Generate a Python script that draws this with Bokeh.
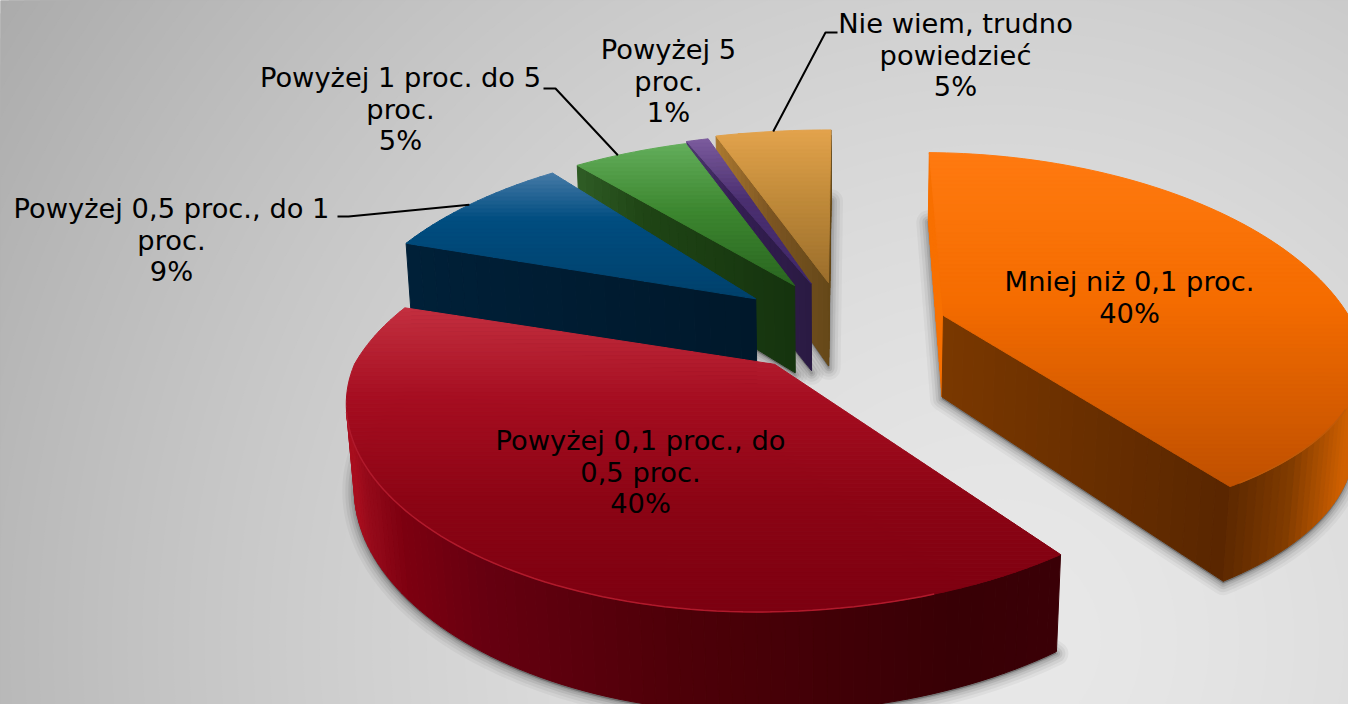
import math
from bokeh.plotting import figure
from bokeh.models import Range1d
from bokeh.embed import file_html
from bokeh.resources import INLINE
from bokeh.core.properties import value

# --- data ---
categories = ["Mniej niż 0,1 proc.", "Powyżej 0,1 proc., do 0,5 proc.", "Powyżej 0,5 proc., do 1 proc.",
              "Powyżej 1 proc. do 5 proc.", "Powyżej 5 proc.", "Nie wiem, trudno powiedzieć"]
values = [40, 40, 9, 5, 1, 5]
label_lines = [["Mniej niż 0,1 proc."], ["Powyżej 0,1 proc., do", "0,5 proc."], ["Powyżej 0,5 proc., do 1", "proc."],
               ["Powyżej 1 proc. do 5", "proc."], ["Powyżej 5", "proc."], ["Nie wiem, trudno", "powiedzieć"]]

# --- layout and style ---
W, H_PX = 1348, 704
CX, CY, F, G, K, M = 841.0, 321.0, 400.0, 177.0, 0.21, 0.015
EXPLODE = 0.27
# per-slice fit of the perspective: centre shift, x radius, back/front y radius, height, angle nudges, left pinch
SHIFT = [(0, -0.05), (0, -0.012), (0.003, -0.02), (0.015, -0.02), (0.012, -0.03), (0.008, -0.036)]
RX = [1.02, 1.0, 1.03, 1.08, 1.12, 1.19]
RY = [1.16, 1.0, 1.15, 1.13, 1.15, 1.17]
RYF = [0.97, 0.99, 1.0, 1.0, 1.0, 1.0]
HZ = [83.0, 81.0, 90.0, 92.0, 92.0, 88.0]
NUDGE = [(1.0, 3.0), (0, 0), (0, 0), (0, 1.5), (0, 0), (0, 0)]
PINCH = [0, 0.06, 0, 0, 0, 0]
TOP = [
    [(153, "#ff7a10"), (300, "#f56c00"), (486, "#bf5000")],
    [(305, "#c43040"), (400, "#a50d20"), (500, "#8c0414"), (610, "#7c0010")],
    [(175, "#4378a5"), (220, "#004d80"), (300, "#00416b")],
    [(145, "#62ad5a"), (210, "#3d8730"), (285, "#2a6620")],
    [(140, "#7a5a9c"), (200, "#4a2f70"), (285, "#40286a")],
    [(130, "#e3a34c"), (200, "#c08a3a"), (285, "#9a6d2b")],
]
START_CUT = [
    [(925, "#f87000"), (945, "#f87000")],
    [(770, "#300004"), (1060, "#300004")],
    [(405, "#002038"), (757, "#00182b")],
    [(578, "#2f5c25"), (640, "#1f4515"), (795, "#15330e")],
    [(688, "#4d3a6e"), (730, "#351f55"), (810, "#2a1a42")],
    [(717, "#a9772f"), (770, "#7c5522"), (830, "#654818")],
]
END_CUT = [
    [(943, "#7a3800"), (1228, "#592600")],
    [(405, "#7c0010"), (770, "#7c0010")],
    [(405, "#00182b"), (757, "#00182b")],
    [(578, "#15330e"), (795, "#15330e")],
    [(688, "#2a1a42"), (810, "#2a1a42")],
    [(717, "#654818"), (830, "#654818")],
]
RIM = [
    [(1222, "#592600"), (1290, "#803b00"), (1348, "#d06000")],
    [(351, "#a80e1e"), (364, "#960a1a"), (400, "#7d0010"), (481, "#660010"), (670, "#4e0008"), (953, "#380005"), (1060, "#3a0006")],
    [(405, "#00182b"), (548, "#00182b")],
    [(578, "#2f5c25"), (685, "#2f5c25")],
    [(688, "#4d3a6e"), (705, "#4d3a6e")],
    [(717, "#a9772f"), (832, "#a9772f")],
]
LABEL_AT = [(1129, 281), (640, 440), (171, 208), (400, 77), (668, 49), (955, 23)]
LEADER = {2: ([(337, 216), (348, 216)], 0.5), 3: ([(543, 88), (555, 88)], 0.42), 5: ([(837, 32), (825, 32)], 0.5)}
LINE_H = 31.5
FONT = "DejaVu Sans"
FONT_SIZE = "27.3px"


def project(X, Y, Z, hz):
    w = 1 + K * Y - M * Z
    return CX + F * X / w, CY + (-G * Y - hz * Z) / w


def hex2rgb(h):
    return tuple(int(h[i:i + 2], 16) for i in (1, 3, 5))


def ramp(stops, t):
    if t <= stops[0][0]:
        return stops[0][1]
    for (a, ca), (b, cb) in zip(stops, stops[1:]):
        if t <= b:
            u = (t - a) / (b - a)
            ra, rb = hex2rgb(ca), hex2rgb(cb)
            return "#%02x%02x%02x" % tuple(round(p + (q - p) * u) for p, q in zip(ra, rb))
    return stops[-1][1]


def clip(poly, y, keep_below):
    out = []
    n = len(poly)
    for i in range(n):
        a, b = poly[i], poly[(i + 1) % n]
        ina = a[1] >= y if keep_below else a[1] <= y
        inb = b[1] >= y if keep_below else b[1] <= y
        if ina:
            out.append(a)
        if ina != inb:
            u = (y - a[1]) / (b[1] - a[1])
            out.append((a[0] + (b[0] - a[0]) * u, y))
    return out


def area(q):
    return sum(q[i][0] * q[(i + 1) % len(q)][1] - q[(i + 1) % len(q)][0] * q[i][1] for i in range(len(q)))


p = figure(width=W, height=H_PX, x_range=Range1d(0, W), y_range=Range1d(H_PX, 0),
           toolbar_location=None, output_backend="svg", min_border=0, outline_line_color=None,
           background_fill_color="#aaaaaa", border_fill_color="#ffffff")
p.axis.visible = False
p.grid.visible = False

# backdrop: radial grey gradient
rad, col = [], []
for lv in range(171, 233):
    d = 1187 * ((232.5 - lv) / 61) ** (1 / 1.5)
    rad.append(d)
    col.append("#%02x%02x%02x" % (lv, lv, lv))
p.circle(x=[1000] * len(rad), y=[640] * len(rad), radius=rad, fill_color=col, line_color=None)

total = sum(values)
angles, acc = [], 0.0
for v in values:
    angles.append((acc, acc + 360.0 * v / total))
    acc += 360.0 * v / total

rims, centers = [], []
for i, (a0, b0) in enumerate(angles):
    mid = math.radians((a0 + b0) / 2)
    a, b = a0 + NUDGE[i][0], b0 + NUDGE[i][1]
    ox = EXPLODE * math.sin(mid) + SHIFT[i][0]
    oy = EXPLODE * math.cos(mid) + SHIFT[i][1]
    n = max(4, int((b - a) / 1.5))
    r = []
    for j in range(n + 1):
        t = math.radians(a + (b - a) * j / n)
        sx, cy_ = math.sin(t), math.cos(t)
        px = sx * RX[i]
        if sx < 0 and cy_ < 0:
            px *= 1 - PINCH[i] * (-cy_)
        py = cy_ * RY[i] if cy_ > 0 else cy_ * RYF[i]
        r.append((ox + px, oy + py))
    rims.append(r)
    centers.append((ox, oy))

ORDER = [5, 4, 3, 2, 0, 1]

# soft shadows from the floor outlines
for i in ORDER:
    poly = [project(*centers[i], -1, HZ[i])] + [project(x, y, -1, HZ[i]) for x, y in rims[i]]
    xs = [q[0] for q in poly]
    ys = [q[1] + 2 for q in poly]
    for lw, al in ((24, 0.04), (18, 0.05), (12, 0.07), (7, 0.09), (3, 0.1)):
        p.patch(xs, ys, fill_color="#000000", fill_alpha=0.06, line_color="#000000", line_alpha=al,
                line_width=lw, line_join="round")


def face(xs_, ys_, cs_, a3, b3, stops, parts, hz):
    for s in range(parts):
        u0, u1 = s / parts, (s + 1) / parts
        pa = (a3[0] + (b3[0] - a3[0]) * u0, a3[1] + (b3[1] - a3[1]) * u0)
        pb = (a3[0] + (b3[0] - a3[0]) * u1, a3[1] + (b3[1] - a3[1]) * u1)
        q = [project(*pa, 0, hz), project(*pb, 0, hz), project(*pb, -1, hz), project(*pa, -1, hz)]
        if area(q) < 0:
            xs_.append([c[0] for c in q])
            ys_.append([c[1] for c in q])
            cs_.append(ramp(stops, (q[0][0] + q[1][0]) / 2))


for i in ORDER:
    xs_, ys_, cs_ = [], [], []
    r = rims[i]
    c = centers[i]
    hz = HZ[i]
    face(xs_, ys_, cs_, c, r[0], START_CUT[i], 24, hz)
    face(xs_, ys_, cs_, r[-1], c, END_CUT[i], 24, hz)
    for j in range(len(r) - 1):
        face(xs_, ys_, cs_, r[j], r[j + 1], RIM[i], 1, hz)
    top = [project(*c, 0, hz)] + [project(x, y, 0, hz) for x, y in r]
    y0 = min(q[1] for q in top)
    y1 = max(q[1] for q in top)
    y = y0
    while y < y1:
        band = clip(clip(top, y, True), y + 4, False)
        if len(band) >= 3:
            xs_.append([q[0] for q in band])
            ys_.append([q[1] for q in band])
            cs_.append(ramp(TOP[i], y + 2))
        y += 4
    p.patches(xs_, ys_, fill_color=cs_, line_color=cs_, line_width=1)

# light edge between the top and the rim of the big slices
for i, edge, xmax in ((0, "#c05a08", 1348), (1, "#b01a2c", 940)):
    pts = [project(x, y, 0, HZ[i]) for x, y in rims[i]]
    pts = [q for q, q2 in zip(pts, pts[1:]) if q[0] < xmax and (q2[0] < q[0] and q[1] > 400 or i == 0 and q2[1] > 330)]
    p.line([q[0] for q in pts], [q[1] for q in pts], line_color=edge, line_width=1.5)

# leaders
for i, (elbow, frac) in LEADER.items():
    r = rims[i]
    end = project(*r[round((len(r) - 1) * frac)], 0, HZ[i])
    p.line([q[0] for q in elbow] + [end[0]], [q[1] for q in elbow] + [end[1]], line_color="#000000", line_width=2)

# labels
tx, ty, tt = [], [], []
for i, lines in enumerate(label_lines):
    x0, y0 = LABEL_AT[i]
    for n, s in enumerate(lines + ["%d%%" % values[i]]):
        tx.append(x0)
        ty.append(y0 + n * LINE_H)
        tt.append(s)
p.text(tx, ty, text=tt, text_font=value(FONT), text_font_size=FONT_SIZE, text_align="center",
       text_baseline="middle", text_color="#000000")

open("out.html", "w").write(file_html(p, INLINE))
